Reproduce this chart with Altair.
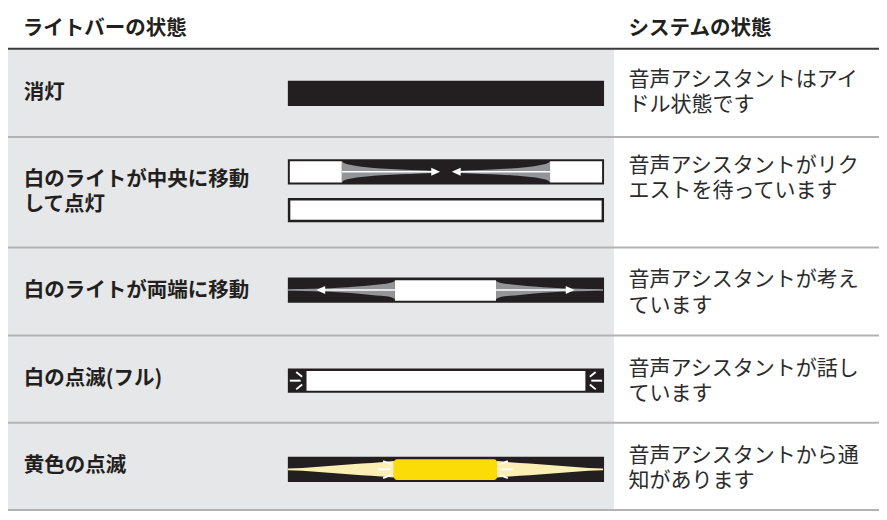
import altair as alt
import pandas as pd

# ---------------- data ----------------
header_left = "ライトバーの状態"
header_right = "システムの状態"
light_states = [
    ["消灯"],
    ["白のライトが中央に移動", "して点灯"],
    ["白のライトが両端に移動"],
    ["白の点滅(フル)"],
    ["黄色の点滅"],
]
system_states = [
    ["音声アシスタントはアイ", "ドル状態です"],
    ["音声アシスタントがリク", "エストを待っています"],
    ["音声アシスタントが考え", "ています"],
    ["音声アシスタントが話し", "ています"],
    ["音声アシスタントから通", "知があります"],
]

# ---------------- layout (reference pixel space 887 x 520) ----------------
W, H = 887, 520
row_edges = [42, 133, 247, 338, 428, 518]
left_text_y = [88, 177, 292, 383, 473]      # first line of each text block
right_text_y = [74, 163, 281, 372, 462]     # first line of each text block
LINE_H = 25.2
BX0, BX1 = 285, 607
BLACK = "#231f20"
GRAY_BG = "#e6e7e8"
TAPER_GRAY = "#939598"
CREAM = "#fcefb4"
YELLOW = "#fbdc06"
WHITE = "#ffffff"

rects, areas, segs, texts_b, texts_r = [], [], [], [], []


def rect(x0, x1, y0, y1, fill):
    rects.append(dict(x=x0, x2=x1, y=y0, y2=y1, fill=fill))


def seg(x0, y0, x1, y1, color, w):
    segs.append(dict(x=x0, y=y0, x2=x1, y2=y1, color=color, w=w))


def taper(sid, xs, hs, yc, color, mirror=None):
    for x, h in zip(xs, hs):
        areas.append(dict(sid=sid, x=x, y=yc - h, y2=yc + h, color=color))
    if mirror is not None:
        for x, h in zip(xs, hs):
            areas.append(dict(sid=sid + "_m", x=mirror - x, y=yc - h, y2=yc + h, color=color))


# backgrounds of left column
for i in range(5):
    rect(0, 617, row_edges[i], row_edges[i + 1], GRAY_BG)

# row separators and header line
seg(0, 42, W, 42, "#3a3a3a", 2)
for yy in row_edges[1:]:
    seg(0, yy, W, yy, "#b3b3b3", 2)

# texts (multi-line blocks joined with a line break)
texts_b.append(dict(x=15, y=22, t=header_left))
texts_b.append(dict(x=632, y=22, t=header_right))
for i in range(5):
    texts_b.append(dict(x=16, y=left_text_y[i], t="\n".join(light_states[i])))
    texts_r.append(dict(x=632, y=right_text_y[i], t="\n".join(system_states[i])))

# row 1: off
rect(BX0, BX1, 75, 101, BLACK)

# row 2: white light moves to center, then lit
yc = 169
rect(BX0, BX1, 156, 182, BLACK)
rect(287, 340, 158, 180, WHITE)
rect(552, 605, 158, 180, WHITE)
taper("r2", [340, 342, 347, 355, 365, 380, 400, 420, 432],
      [11, 9, 7.5, 6, 4.8, 3.5, 2.5, 1.7, 1.2], yc, TAPER_GRAY, mirror=892)
seg(340, yc, 432, yc, WHITE, 1.5)
seg(892 - 340, yc, 892 - 432, yc, WHITE, 1.5)
taper("r2a", [431, 440], [4.2, 0], yc, WHITE, mirror=892)
rect(BX0, BX1, 196, 221, BLACK)
rect(287.5, 604.5, 198.5, 218.5, WHITE)

# row 3: white light moves to both ends
yc = 291
rect(BX0, BX1, 278, 304, BLACK)
taper("r3", [285, 300, 320, 337, 355, 370, 380, 390, 394],
      [0.8, 1, 1.6, 2.3, 3.6, 5, 6, 7.5, 9.3], yc, TAPER_GRAY, mirror=891)
seg(322, yc, 394, yc, WHITE, 1.5)
seg(891 - 322, yc, 891 - 394, yc, WHITE, 1.5)
taper("r3a", [314, 323], [0, 4.2], yc, WHITE, mirror=891)
rect(394, 497, 281, 302, WHITE)

# row 4: full white blink
yc = 384.5
rect(BX0, BX1, 372, 397, BLACK)
rect(304, 588, 374.5, 395, WHITE)
for m in (0, 892):
    def mx(x):
        return x if m == 0 else m - x
    seg(mx(287), yc, mx(298), yc, WHITE, 2)
    seg(mx(293.5), 375.5, mx(299.5), 380.5, WHITE, 1.8)
    seg(mx(293.5), 393.5, mx(299.5), 388.5, WHITE, 1.8)

# row 5: yellow blink
yc = 476
rect(BX0, BX1, 463, 489, BLACK)
taper("r5", [285, 300, 320, 340, 360, 380, 393],
      [0.9, 1.5, 3, 4.5, 6, 7.3, 8.5], yc, CREAM, mirror=891)
for m in (0, 891):
    def mx(x):
        return x if m == 0 else m - x
    seg(mx(377), yc, mx(389), yc, WHITE, 2)
    seg(mx(382), 467.5, mx(390), 470.5, WHITE, 1.8)
    seg(mx(382), 485, mx(390), 482, WHITE, 1.8)

yellow = pd.DataFrame([dict(x=393, x2=498, y=465.5, y2=487, fill=YELLOW)])

# ---------------- chart ----------------
xs = alt.Scale(domain=[0, W], nice=False, zero=False)
ys = alt.Scale(domain=[0, H], nice=False, zero=False, reverse=True)

rect_layer = alt.Chart(pd.DataFrame(rects)).mark_rect().encode(
    x=alt.X("x:Q", scale=xs, axis=None), x2="x2:Q",
    y=alt.Y("y:Q", scale=ys, axis=None), y2="y2:Q",
    color=alt.Color("fill:N", scale=None),
)

area_layer = alt.Chart(pd.DataFrame(areas)).mark_area(orient="vertical", interpolate="monotone").encode(
    x=alt.X("x:Q", scale=xs, axis=None),
    y=alt.Y("y:Q", scale=ys, axis=None, stack=None), y2="y2:Q",
    detail="sid:N",
    color=alt.Color("color:N", scale=None),
)

yellow_layer = alt.Chart(yellow).mark_rect(cornerRadius=3).encode(
    x=alt.X("x:Q", scale=xs, axis=None), x2="x2:Q",
    y=alt.Y("y:Q", scale=ys, axis=None), y2="y2:Q",
    color=alt.Color("fill:N", scale=None),
)

seg_layer = alt.Chart(pd.DataFrame(segs)).mark_rule(strokeCap="butt").encode(
    x=alt.X("x:Q", scale=xs, axis=None), x2="x2:Q",
    y=alt.Y("y:Q", scale=ys, axis=None), y2="y2:Q",
    color=alt.Color("color:N", scale=None),
    strokeWidth=alt.StrokeWidth("w:Q", scale=None),
)

text_b = alt.Chart(pd.DataFrame(texts_b)).mark_text(
    align="left", baseline="middle", font="Noto Sans CJK JP",
    fontSize=20.5, fontWeight="bold", color=BLACK,
    lineBreak="\n", lineHeight=LINE_H,
).encode(
    x=alt.X("x:Q", scale=xs, axis=None),
    y=alt.Y("y:Q", scale=ys, axis=None),
    text="t:N",
)

text_r = alt.Chart(pd.DataFrame(texts_r)).mark_text(
    align="left", baseline="middle", font="Noto Sans CJK JP",
    fontSize=21, fontWeight="normal", color="#2b2b2b",
    lineBreak="\n", lineHeight=LINE_H,
).encode(
    x=alt.X("x:Q", scale=xs, axis=None),
    y=alt.Y("y:Q", scale=ys, axis=None),
    text="t:N",
)

chart = alt.layer(
    rect_layer, area_layer, yellow_layer, seg_layer, text_b, text_r
).properties(
    width=871, height=504, padding=0,
    autosize=alt.AutoSizeParams(type="none"),
).configure_view(strokeWidth=0)

chart.save("out.html", embed_options={"renderer": "svg", "actions": False})
